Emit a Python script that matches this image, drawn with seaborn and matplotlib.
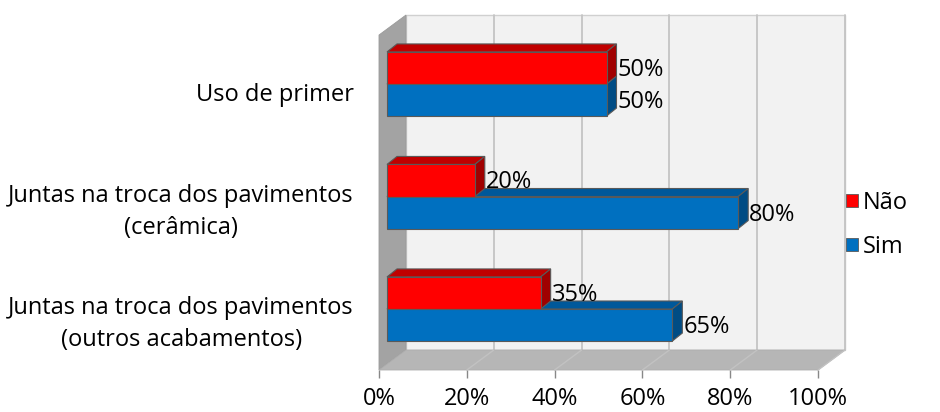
import pandas as pd
import matplotlib.pyplot as plt
import seaborn as sns
from matplotlib.colors import to_hex
from matplotlib.patches import Polygon, Rectangle
from matplotlib.transforms import ScaledTranslation

# data
categories = ["Uso de primer",
              "Juntas na troca dos pavimentos\n(cerâmica)",
              "Juntas na troca dos pavimentos\n(outros acabamentos)"]
series = ["Não", "Sim"]
nao = [0.50, 0.20, 0.35]
sim = [0.50, 0.80, 0.65]
ticks = [0, 0.2, 0.4, 0.6, 0.8, 1.0]
tick_labels = ["0%", "20%", "40%", "60%", "80%", "100%"]

df = pd.DataFrame({
    "categoria": categories * 2,
    "resposta": ["Não"] * len(nao) + ["Sim"] * len(sim),
    "valor": nao + sim,
})

front = {"Não": "#FF0000", "Sim": "#0070C0"}
top_col = {"Não": "#C00000", "Sim": "#00589A"}
side_col = {"Não": "#A00000", "Sim": "#004C84"}

sns.set_theme(style="white")
plt.rcParams["font.family"] = ["Open Sans", "DejaVu Sans"]
plt.rcParams["text.color"] = "black"
plt.rcParams["xtick.color"] = "black"
plt.rcParams["ytick.color"] = "black"
FS = 17

W, H = 940, 412
fig = plt.figure(figsize=(W / 100, H / 100), dpi=100)
# axes = front plane of the 3D box (pixels 379..818 wide, 10..370 from top)
ax = fig.add_axes([379 / W, (H - 370) / H, 439 / W, 360 / H])

sns.barplot(data=df, y="categoria", x="valor", hue="resposta", order=categories,
            hue_order=series, palette=front, width=0.57, orient="h", errorbar=None,
            saturation=1, edgecolor="#595959", linewidth=0.8, ax=ax)
bars = [b for b in ax.patches if b.get_width() > 0]
ax.get_legend().remove()

Y0 = 92                  # pixel row of the first category on the front plane
kx, ky = 439.0, 112.5    # pixels per data unit
ax.set_xlim(0, 1)
ax.set_ylim((370 - Y0) / ky, (10 - Y0) / ky)


def P(xp, yp):
    # pixel position in the figure -> data coords of the front plane
    return ((xp - 379) / kx, (yp - Y0) / ky)


# walls, floor and gridlines
ax.add_patch(Polygon([P(406, 15), P(845, 15), P(845, 350), P(406, 350)],
                     fc="#F2F2F2", ec="#D0D0D0", lw=1, zorder=0, clip_on=False))
ax.add_patch(Polygon([P(379, 35), P(406, 15), P(406, 350), P(379, 370)],
                     fc="#A3A3A3", ec="#9A9A9A", lw=0.6, zorder=0.5, clip_on=False))
ax.add_patch(Polygon([P(379, 370), P(406, 350), P(845, 350), P(818, 370)],
                     fc="#B6B6B6", ec="#ADADAD", lw=0.6, zorder=0.5, clip_on=False))
for t in ticks[1:]:
    xb = 406 + t * kx
    xf = 379 + t * kx
    ax.plot(*zip(P(xb, 15), P(xb, 350)), color="#C4C4C4", lw=1.3, zorder=0.3, clip_on=False)
    ax.plot(*zip(P(xf, 370), P(xb, 350)), color="#C2C2C2", lw=1, zorder=0.6, clip_on=False)

# bars sit a bit behind the front plane
shift = ScaledTranslation(8 / 100, 8 / 100, fig.dpi_scale_trans)
label_tr = ax.transData + ScaledTranslation(19 / 100, 6 / 100, fig.dpi_scale_trans)
dxd, dyd = 10 / kx, -8 / ky

for bar in bars:
    col = to_hex(bar.get_facecolor())
    key = "Não" if col.lower() == front["Não"].lower() else "Sim"
    z = 4 if key == "Não" else 3
    x0, y0, w, h = bar.get_x(), bar.get_y(), bar.get_width(), bar.get_height()
    bar.set_transform(ax.transData + shift)
    bar.set_zorder(6)
    top = [(x0, y0), (x0 + w, y0), (x0 + w + dxd, y0 + dyd), (x0 + dxd, y0 + dyd)]
    side = [(x0 + w, y0), (x0 + w, y0 + h), (x0 + w + dxd, y0 + h + dyd), (x0 + w + dxd, y0 + dyd)]
    for pts, c in [(top, top_col[key]), (side, side_col[key])]:
        p = Polygon(pts, fc=c, ec="#595959", lw=0.8, zorder=z, clip_on=False)
        p.set_transform(ax.transData + shift)
        ax.add_patch(p)
    ax.text(x0 + w, y0 + h / 2, f"{w:.0%}", transform=label_tr, ha="left", va="center",
            fontsize=FS, color="black", zorder=7, clip_on=False)

# axes look
for s in ax.spines.values():
    s.set_visible(False)
ax.patch.set_visible(False)
ax.set_xlabel("")
ax.set_ylabel("")
ax.set_xticks(ticks, tick_labels)
ax.tick_params(axis="x", bottom=True, length=6, width=1, color="#888888",
               labelcolor="black", labelsize=FS, pad=6)
ax.tick_params(axis="y", left=False, length=0, labelcolor="black", labelsize=FS, pad=18)
for lbl in ax.get_yticklabels():
    lbl.set_multialignment("center")
    lbl.set_linespacing(1.45)

handles = [Rectangle((0, 0), 1, 1, fc=front[s], ec="#595959", lw=0.6) for s in series]
fig.legend(handles, series, loc="center left", bbox_to_anchor=(846 / W, 1 - 225 / H),
           frameon=False, fontsize=FS, handlelength=0.5, handleheight=0.5,
           handletextpad=0.2, labelspacing=0.85, borderpad=0, borderaxespad=0)

fig.savefig("out.png", dpi=100)
